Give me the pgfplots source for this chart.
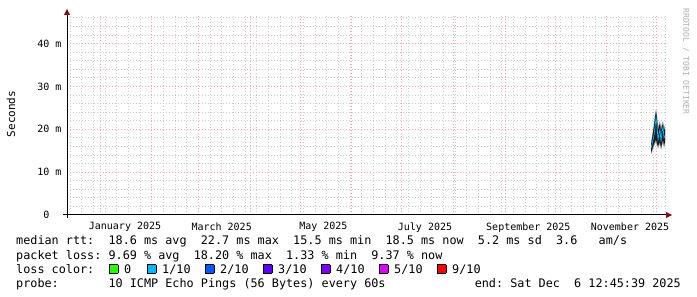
\documentclass[border=0pt]{standalone}
\usepackage{pgfplots}
\pgfplotsset{compat=1.18}
\usepackage{pgfplotstable}
\usepackage{fontspec}
\setmainfont{DejaVu Sans}
\newfontfamily\mono{DejaVu Sans Mono}
\definecolor{mgrid}{RGB}{242,165,165}
\definecolor{ngrid}{RGB}{205,205,205}
\definecolor{arrowc}{RGB}{128,16,16}
\definecolor{lz}{HTML}{26FF00}
\definecolor{lone}{HTML}{00B8FF}
\definecolor{ltwo}{HTML}{0059FF}
\definecolor{lthree}{HTML}{5E00FF}
\definecolor{lfour}{HTML}{7E00FF}
\definecolor{lfive}{HTML}{DD00FF}
\definecolor{lnine}{HTML}{FF0000}
\definecolor{wm}{RGB}{175,175,175}

% day = days since 1 Jan 2025; median round-trip time in ms
\pgfplotstableread{
day    med
330.59 15.5
331.19 16.5
331.79 17.5
332.39 18.5
332.99 20.5
333.59 22.7
334.19 21.0
334.79 17.5
335.39 19.0
335.99 20.0
336.59 17.0
337.19 19.5
337.79 20.5
338.39 18.0
338.99 18.5
}\median

% smoke band (outer): upper edge forward, lower edge back
\pgfplotstableread{
day    v
330.59 17.0
331.19 18.5
331.79 20.0
332.39 21.5
332.99 23.5
333.59 24.8
334.19 23.5
334.79 20.5
335.39 21.5
335.99 22.0
336.59 20.5
337.19 21.5
337.79 22.0
338.39 20.5
338.99 21.0
338.99 16.6
338.39 15.5
337.79 17.0
337.19 16.0
336.59 15.1
335.99 16.5
335.39 16.0
334.79 15.5
334.19 16.1
333.59 17.0
332.99 16.5
332.39 16.1
331.79 15.4
331.19 14.6
330.59 14.0
}\smokeout

% smoke band (inner)
\pgfplotstableread{
day    v
330.59 16.3
331.19 17.8
331.79 19.3
332.39 20.8
332.99 22.8
333.59 24.2
334.19 22.8
334.79 19.8
335.39 20.8
335.99 21.3
336.59 19.8
337.19 20.8
337.79 21.3
338.39 19.8
338.99 20.3
338.99 17.1
338.39 16.1
337.79 17.6
337.19 16.6
336.59 15.6
335.99 17.1
335.39 16.6
334.79 16.1
334.19 16.6
333.59 17.6
332.99 17.1
332.39 16.6
331.79 15.9
331.19 15.1
330.59 14.5
}\smokein

\newcommand\lfont{\mono\fontsize{11.8bp}{14bp}\selectfont}
\newcommand\sw[1]{{\setlength\fboxsep{0pt}\setlength\fboxrule{0.6bp}\fcolorbox{black}{#1}{\rule{0pt}{8bp}\rule{8bp}{0pt}}}}

\begin{document}
\begin{tikzpicture}
\fill[white] (0,0) rectangle (697bp,297bp);
\begin{axis}[
  at={(67bp,82bp)}, anchor=south west,
  scale only axis, width=600bp, height=200bp,
  xmin=-19.81, xmax=340.19, ymin=0, ymax=46.67,
  axis line style={draw=none},
  major tick length=0pt, minor tick length=0pt,
  xtick={0,31,59,90,120,151,181,212,243,273,304,334},
  xticklabels={},
  minor xtick={-18,-11,...,340},
  extra x ticks={15,73,134,195,257,318},
  extra x tick labels={January 2025,March 2025,May 2025,July 2025,September 2025,November 2025},
  extra x tick style={grid=none},
  ytick={0,10,20,30,40},
  yticklabels={0\phantom{~m},10~m,20~m,30~m,40~m},
  minor ytick={2,4,...,46},
  grid=both,
  major grid style={mgrid, dash pattern=on 1bp off 2bp, line width=1bp},
  minor grid style={ngrid, dash pattern=on 1bp off 2bp, line width=0.9bp},
  ticklabel style={font=\mono\fontsize{10bp}{12bp}\selectfont, text=black},
  xticklabel style={yshift=-4bp},
  yticklabel style={xshift=-2bp},
]
\addplot[fill=gray!70, draw=none, forget plot] table[x=day,y=v]{\smokeout} -- cycle;
\addplot[fill=black!90, draw=none, forget plot] table[x=day,y=v]{\smokein} -- cycle;
\addplot[lone, line width=0.7bp, forget plot] table[x=day,y=med]{\median};
\end{axis}
% axes with arrows
\draw[black, line width=1bp] (63bp,82bp) -- (668bp,82bp);
\fill[arrowc] (666bp,79bp) -- (672bp,82bp) -- (666bp,85bp) -- cycle;
\draw[black, line width=1bp] (67bp,79bp) -- (67bp,283bp);
\fill[arrowc] (64bp,282bp) -- (67bp,288bp) -- (70bp,282bp) -- cycle;
% y label
\node[rotate=90, font=\mono\fontsize{11bp}{13bp}\selectfont] at (11bp,183bp) {Seconds};
% watermark
\node[rotate=-90, anchor=west, font=\mono\fontsize{8bp}{10bp}\selectfont, text=wm] at (686bp,292bp) {RRDTOOL / TOBI OETIKER};
% legend
\node[anchor=base west, inner sep=0pt, font=\lfont] at (16bp,52bp) {median~rtt:~~18.6~ms~avg~~22.7~ms~max~~15.5~ms~min~~18.5~ms~now~~5.2~ms~sd~~3.6~~~am/s};
\node[anchor=base west, inner sep=0pt, font=\lfont] at (16bp,38bp) {packet~loss:~9.69~\%~avg~~18.20~\%~max~~1.33~\%~min~~9.37~\%~now};
\node[anchor=base west, inner sep=0pt, font=\lfont] at (16bp,24bp) {loss~color:};
\node[anchor=base west, inner sep=0pt, font=\lfont] at (109bp,24bp) {\sw{lz}};
\node[anchor=base west, inner sep=0pt, font=\lfont] at (124bp,24bp) {0};
\node[anchor=base west, inner sep=0pt, font=\lfont] at (147bp,24bp) {\sw{lone}};
\node[anchor=base west, inner sep=0pt, font=\lfont] at (162bp,24bp) {1/10};
\node[anchor=base west, inner sep=0pt, font=\lfont] at (205bp,24bp) {\sw{ltwo}};
\node[anchor=base west, inner sep=0pt, font=\lfont] at (220bp,24bp) {2/10};
\node[anchor=base west, inner sep=0pt, font=\lfont] at (263bp,24bp) {\sw{lthree}};
\node[anchor=base west, inner sep=0pt, font=\lfont] at (278bp,24bp) {3/10};
\node[anchor=base west, inner sep=0pt, font=\lfont] at (321bp,24bp) {\sw{lfour}};
\node[anchor=base west, inner sep=0pt, font=\lfont] at (336bp,24bp) {4/10};
\node[anchor=base west, inner sep=0pt, font=\lfont] at (379bp,24bp) {\sw{lfive}};
\node[anchor=base west, inner sep=0pt, font=\lfont] at (394bp,24bp) {5/10};
\node[anchor=base west, inner sep=0pt, font=\lfont] at (437bp,24bp) {\sw{lnine}};
\node[anchor=base west, inner sep=0pt, font=\lfont] at (452bp,24bp) {9/10};
\node[anchor=base west, inner sep=0pt, font=\lfont] at (16bp,10bp) {probe:~~~~~~~10~ICMP~Echo~Pings~(56~Bytes)~every~60s};
\node[anchor=base east, inner sep=0pt, font=\lfont] at (681bp,10bp) {end:~Sat~Dec~~6~12:45:39~2025};
\path[use as bounding box] (0,0) rectangle (697bp,297bp);
\end{tikzpicture}
\end{document}
